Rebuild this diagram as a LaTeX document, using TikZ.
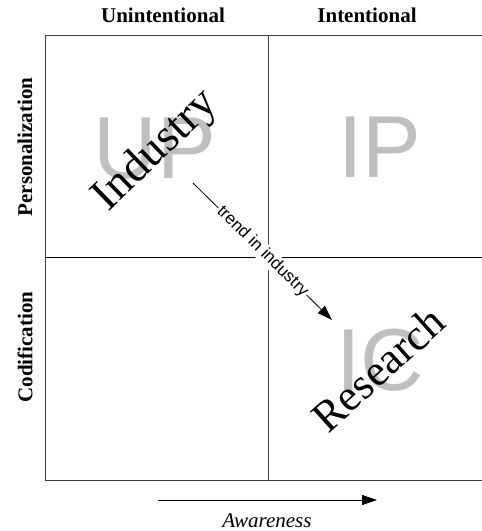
\documentclass[tikz,border=0pt]{standalone}
\usepackage{fontspec}
\setmainfont{Liberation Serif}
\setsansfont{Liberation Sans}
\usetikzlibrary{arrows.meta}
\tikzset{
  frame/.style={line width=0.9pt, draw=black!75},
  header/.style={font=\fontsize{21}{24}\selectfont\bfseries, inner sep=0pt},
  quad/.style={font=\sffamily\fontsize{88}{90}\selectfont, text=black!25, inner sep=0pt},
  big/.style={font=\fontsize{46}{50}\selectfont, inner sep=0pt},
  trendlbl/.style={font=\sffamily\fontsize{17}{19}\selectfont, fill=white, inner sep=1.2pt, sloped},
  arr/.style={line width=0.8pt, -{Triangle[length=15pt,width=10pt]}}
}
\begin{document}
\begin{tikzpicture}[x=1pt,y=1pt]
\useasboundingbox (0,0) rectangle (482,531);
% frame
\coordinate (tl) at (45,496);
\coordinate (tr) at (482,496);
\coordinate (bl) at (45,51);
\coordinate (br) at (482,51);
\coordinate (mt) at (268,496);
\coordinate (mb) at (268,51);
\coordinate (ml) at (45,274);
\coordinate (mr) at (482,274);
\draw[frame] (tr) -- (tl) -- (bl) -- (br);
\draw[frame] (mt) -- (mb);
\draw[frame,draw=black] (ml) -- (mr);
% headers
\node[header] (h1) at (163,516) {Unintentional};
\node[header] (h2) at (367,516) {Intentional};
\node[header,rotate=90] (v1) at (25,384) {Personalization};
\node[header,rotate=90] (v2) at (25,184) {Codification};
% quadrant letters
\node[quad] (up) at (155,382) {UP};
\node[quad] (ip) at (380,384) {IP};
\node[quad] (ic) at (380,171) {IC};
% trend
\coordinate (ts) at (193,348);
\coordinate (te) at (332,211);
\draw[arr] (ts) -- node[trendlbl] (tl2) {trend in industry} (te);
% big words
\node[big,rotate=44] (ind) at (156,380) {Industry};
\node[big,rotate=42,font=\fontsize{44}{48}\selectfont] (res) at (378,162) {Research};
% awareness
\coordinate (as) at (158,31);
\coordinate (ae) at (377,31);
\draw[arr] (as) -- (ae);
\node[font=\fontsize{21}{24}\selectfont\itshape, inner sep=0pt] (aw) at (267,10) {Awareness};
\end{tikzpicture}
\end{document}
